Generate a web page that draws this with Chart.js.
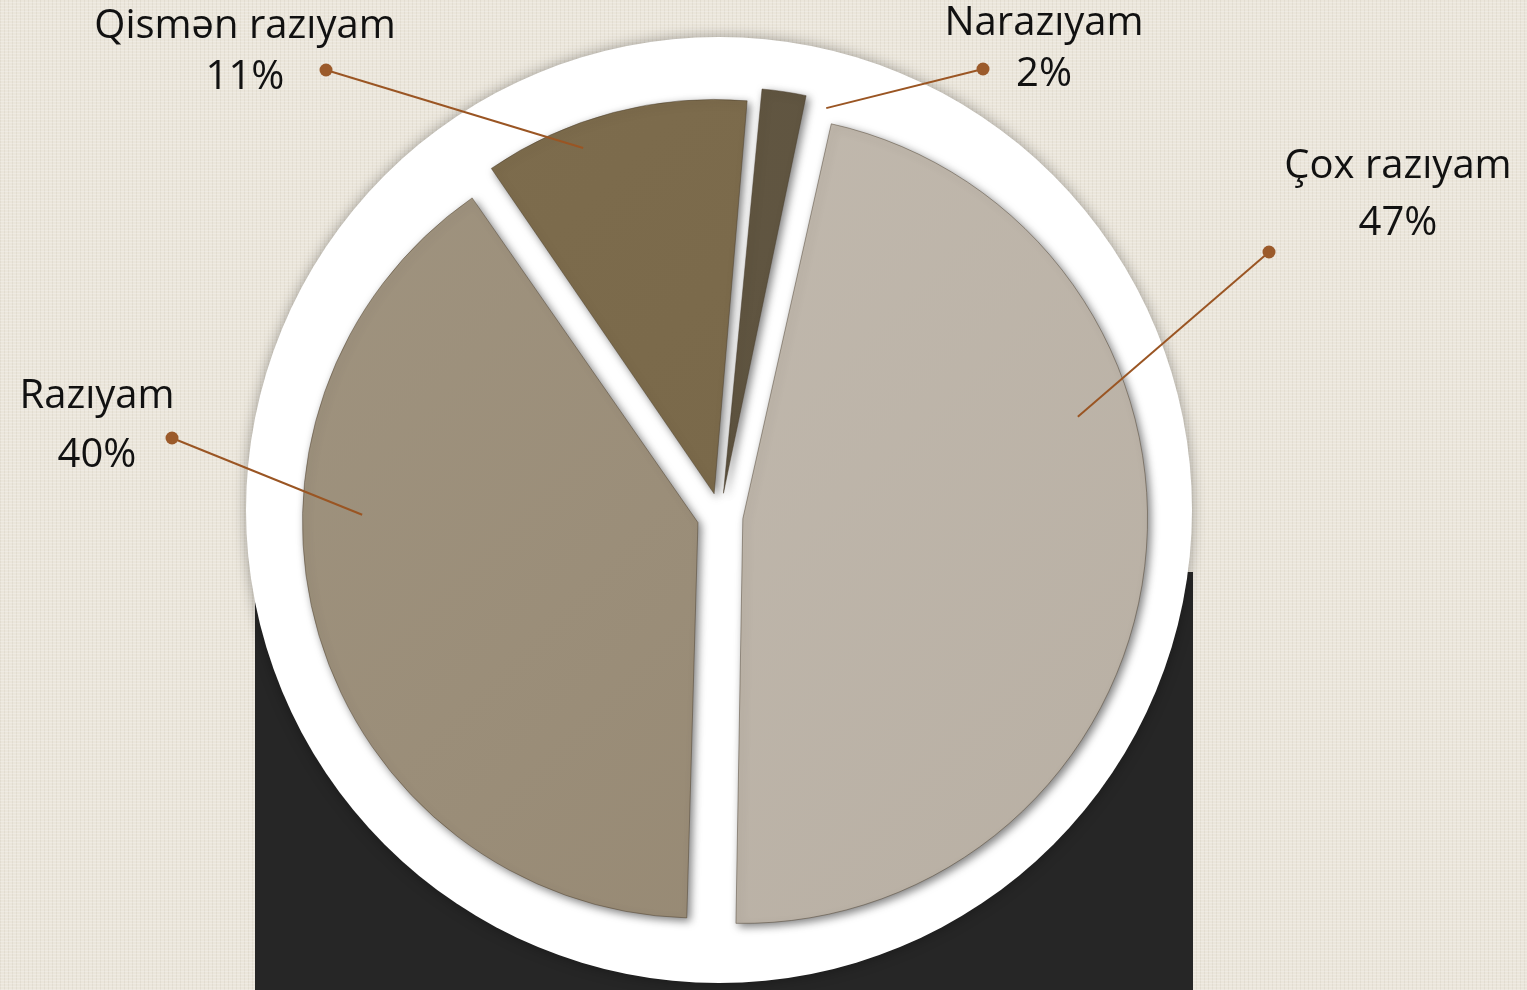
<!DOCTYPE html>
<html>
<head>
<meta charset="utf-8">
<title>Məmnunluq</title>
<script src="https://cdn.jsdelivr.net/npm/chart.js@4.4.1/dist/chart.umd.min.js"></script>
<style>
  html, body { margin: 0; padding: 0; }
  body {
    width: 1527px;
    height: 990px;
    overflow: hidden;
    background-color: #ebe6db;
    background-image:
      repeating-linear-gradient(0deg, rgba(255,255,255,.22) 0 1px, transparent 1px 3px),
      repeating-linear-gradient(90deg, rgba(150,138,115,.10) 0 1px, transparent 1px 4px);
  }
  #wrap { position: relative; width: 1527px; height: 990px; }
</style>
</head>
<body>
<div id="wrap"><canvas id="pieChart"></canvas></div>
<script>
/* =========================
   DATA
========================= */
const categories = ["Narazıyam", "Çox razıyam", "Razıyam", "Qismən razıyam"];
const percents = [2, 47, 40, 11];

/* =========================
   STYLE / LAYOUT
========================= */
const sliceTop    = ["#635843", "#c3bbb0", "#a09480", "#7e6d4e"];
const sliceBottom = ["#5b503d", "#b8afa3", "#958771", "#766546"];

const PIE_RADIUS = 386;
const PIE_OFFSET = 92;   // chart.js moves each slice out by offset / 4

// label text centre, two baselines, dot position, leader start (deg from top, fraction of radius)
const labelLayout = [
  { x: 1044, y1: 35,  y2: 86,  dot: [983, 69],  start: [14.6, 1.092] },
  { x: 1398, y1: 178, y2: 235, dot: [1269, 252], start: [74.5, 0.962] },
  { x: 97,   y1: 408, y2: 467, dot: [172, 438], start: [270.2, 0.927] },
  { x: 245,  y1: 38,  y2: 89,  dot: [326, 70],  start: [339.6, 1.017] }
];

function pieCenter(chart) {
  const arc = chart.getDatasetMeta(0).data[0];
  return { x: arc.x, y: arc.y, r: arc.outerRadius };
}

/* =========================
   PLUGINS
========================= */
const backdrop = {
  id: "backdrop",
  beforeDatasetsDraw(chart) {
    const ctx = chart.ctx;
    const c = pieCenter(chart);
    const ringR = 473;
    ctx.save();
    // dark block behind the ring
    ctx.fillStyle = "#262626";
    ctx.fillRect(c.x - ringR + 8, c.y + 56, ringR * 2 - 8, chart.height - (c.y + 56));
    // white ring
    ctx.shadowColor = "rgba(0,0,0,0.35)";
    ctx.shadowBlur = 14;
    ctx.fillStyle = "#ffffff";
    ctx.beginPath();
    ctx.arc(c.x - 1, c.y - 6, ringR, 0, Math.PI * 2);
    ctx.fill();
    ctx.restore();

    // soft shadow for slices
    ctx.save();
    ctx.shadowColor = "rgba(0,0,0,0.5)";
    ctx.shadowBlur = 9;
    ctx.shadowOffsetX = 3;
    ctx.shadowOffsetY = 3;
  },
  afterDatasetsDraw(chart) {
    const ctx = chart.ctx;
    ctx.restore();

    const c = pieCenter(chart);
    labelLayout.forEach((l, i) => {
      const a = (l.start[0] - 90) * Math.PI / 180;
      const sx = c.x + Math.cos(a) * c.r * l.start[1];
      const sy = c.y + Math.sin(a) * c.r * l.start[1];

      ctx.save();
      ctx.strokeStyle = "#9a5523";
      ctx.lineWidth = 2;
      ctx.beginPath();
      ctx.moveTo(sx, sy);
      ctx.lineTo(l.dot[0], l.dot[1]);
      ctx.stroke();
      ctx.fillStyle = "#9b5a2a";
      ctx.beginPath();
      ctx.arc(l.dot[0], l.dot[1], 6.5, 0, Math.PI * 2);
      ctx.fill();

      ctx.fillStyle = "#111111";
      ctx.font = "40px 'Open Sans'";
      ctx.textAlign = "center";
      ctx.textBaseline = "alphabetic";
      ctx.fillText(categories[i], l.x, l.y1);
      ctx.fillText(percents[i] + "%", l.x, l.y2);
      ctx.restore();
    });
  }
};

/* =========================
   CHART
========================= */
function sliceFill(context) {
  const i = context.dataIndex;
  const area = context.chart.chartArea;
  if (!area) return sliceTop[i];
  const g = context.chart.ctx.createLinearGradient(area.left, area.top, area.right, area.bottom);
  g.addColorStop(0, sliceTop[i]);
  g.addColorStop(1, sliceBottom[i]);
  return g;
}

new Chart(document.getElementById("pieChart"), {
  type: "pie",
  data: {
    labels: categories,
    datasets: [{
      data: percents,
      backgroundColor: sliceFill,
      borderColor: "rgba(70,58,40,0.45)",
      borderWidth: 1,
      offset: PIE_OFFSET,
      hoverOffset: 0
    }]
  },
  options: {
    responsive: true,
    maintainAspectRatio: false,
    animation: false,
    events: [],
    rotation: 5,
    radius: PIE_RADIUS,
    layout: { padding: { left: 297, right: 384, top: 93, bottom: 51 } },
    plugins: {
      legend: { display: false },
      tooltip: { enabled: false }
    }
  },
  plugins: [backdrop]
});
</script>
</body>
</html>
